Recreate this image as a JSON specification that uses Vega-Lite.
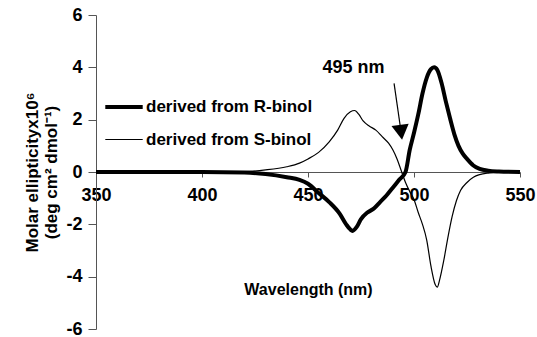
{
  "$schema": "https://vega.github.io/schema/vega-lite/v6.json",
  "width": 424,
  "height": 314,
  "autosize": "none",
  "padding": {"left": 96, "top": 15, "right": 17, "bottom": 8},
  "background": "white",
  "config": {
    "view": {"stroke": null},
    "font": "Liberation Sans",
    "legend": {"labelFontSize": 17, "labelFontWeight": "bold", "labelColor": "black", "labelLimit": 400}
  },
  "datasets": {
    "curves": [
      {"wl": 350, "v": 0, "s": "derived from R-binol"},
      {"wl": 400, "v": 0, "s": "derived from R-binol"},
      {"wl": 420, "v": -0.02, "s": "derived from R-binol"},
      {"wl": 430, "v": -0.08, "s": "derived from R-binol"},
      {"wl": 440, "v": -0.2, "s": "derived from R-binol"},
      {"wl": 446, "v": -0.3, "s": "derived from R-binol"},
      {"wl": 450, "v": -0.45, "s": "derived from R-binol"},
      {"wl": 455, "v": -0.8, "s": "derived from R-binol"},
      {"wl": 460, "v": -1.15, "s": "derived from R-binol"},
      {"wl": 465, "v": -1.6, "s": "derived from R-binol"},
      {"wl": 468, "v": -2.0, "s": "derived from R-binol"},
      {"wl": 470, "v": -2.2, "s": "derived from R-binol"},
      {"wl": 471, "v": -2.25, "s": "derived from R-binol"},
      {"wl": 473, "v": -2.1, "s": "derived from R-binol"},
      {"wl": 475, "v": -1.8, "s": "derived from R-binol"},
      {"wl": 478, "v": -1.55, "s": "derived from R-binol"},
      {"wl": 481, "v": -1.4, "s": "derived from R-binol"},
      {"wl": 484, "v": -1.15, "s": "derived from R-binol"},
      {"wl": 487, "v": -0.9, "s": "derived from R-binol"},
      {"wl": 490, "v": -0.6, "s": "derived from R-binol"},
      {"wl": 493, "v": -0.3, "s": "derived from R-binol"},
      {"wl": 496, "v": 0.0, "s": "derived from R-binol"},
      {"wl": 498, "v": 0.85, "s": "derived from R-binol"},
      {"wl": 500, "v": 1.5, "s": "derived from R-binol"},
      {"wl": 502, "v": 2.2, "s": "derived from R-binol"},
      {"wl": 504, "v": 3.0, "s": "derived from R-binol"},
      {"wl": 506, "v": 3.6, "s": "derived from R-binol"},
      {"wl": 508, "v": 3.93, "s": "derived from R-binol"},
      {"wl": 509.5, "v": 4.0, "s": "derived from R-binol"},
      {"wl": 511, "v": 3.9, "s": "derived from R-binol"},
      {"wl": 513, "v": 3.4, "s": "derived from R-binol"},
      {"wl": 515, "v": 2.7, "s": "derived from R-binol"},
      {"wl": 517, "v": 2.05, "s": "derived from R-binol"},
      {"wl": 519, "v": 1.45, "s": "derived from R-binol"},
      {"wl": 521, "v": 1.0, "s": "derived from R-binol"},
      {"wl": 523, "v": 0.7, "s": "derived from R-binol"},
      {"wl": 525, "v": 0.5, "s": "derived from R-binol"},
      {"wl": 528, "v": 0.25, "s": "derived from R-binol"},
      {"wl": 531, "v": 0.12, "s": "derived from R-binol"},
      {"wl": 535, "v": 0.05, "s": "derived from R-binol"},
      {"wl": 540, "v": 0.02, "s": "derived from R-binol"},
      {"wl": 550, "v": 0, "s": "derived from R-binol"},
      {"wl": 350, "v": 0, "s": "derived from S-binol"},
      {"wl": 420, "v": 0.02, "s": "derived from S-binol"},
      {"wl": 430, "v": 0.08, "s": "derived from S-binol"},
      {"wl": 440, "v": 0.2, "s": "derived from S-binol"},
      {"wl": 446, "v": 0.34, "s": "derived from S-binol"},
      {"wl": 450, "v": 0.5, "s": "derived from S-binol"},
      {"wl": 455, "v": 0.75, "s": "derived from S-binol"},
      {"wl": 460, "v": 1.15, "s": "derived from S-binol"},
      {"wl": 464, "v": 1.6, "s": "derived from S-binol"},
      {"wl": 467, "v": 2.05, "s": "derived from S-binol"},
      {"wl": 470, "v": 2.3, "s": "derived from S-binol"},
      {"wl": 472, "v": 2.35, "s": "derived from S-binol"},
      {"wl": 474, "v": 2.2, "s": "derived from S-binol"},
      {"wl": 476, "v": 1.95, "s": "derived from S-binol"},
      {"wl": 479, "v": 1.75, "s": "derived from S-binol"},
      {"wl": 482, "v": 1.6, "s": "derived from S-binol"},
      {"wl": 485, "v": 1.35, "s": "derived from S-binol"},
      {"wl": 488, "v": 1.1, "s": "derived from S-binol"},
      {"wl": 490, "v": 0.85, "s": "derived from S-binol"},
      {"wl": 492, "v": 0.5, "s": "derived from S-binol"},
      {"wl": 494, "v": 0.05, "s": "derived from S-binol"},
      {"wl": 496, "v": -0.4, "s": "derived from S-binol"},
      {"wl": 498, "v": -0.75, "s": "derived from S-binol"},
      {"wl": 500, "v": -1.05, "s": "derived from S-binol"},
      {"wl": 502, "v": -1.55, "s": "derived from S-binol"},
      {"wl": 504, "v": -2.0, "s": "derived from S-binol"},
      {"wl": 506, "v": -2.6, "s": "derived from S-binol"},
      {"wl": 508, "v": -3.6, "s": "derived from S-binol"},
      {"wl": 510, "v": -4.3, "s": "derived from S-binol"},
      {"wl": 511, "v": -4.4, "s": "derived from S-binol"},
      {"wl": 512, "v": -4.15, "s": "derived from S-binol"},
      {"wl": 514, "v": -3.4, "s": "derived from S-binol"},
      {"wl": 516, "v": -2.5, "s": "derived from S-binol"},
      {"wl": 518, "v": -1.7, "s": "derived from S-binol"},
      {"wl": 520, "v": -1.1, "s": "derived from S-binol"},
      {"wl": 522, "v": -0.7, "s": "derived from S-binol"},
      {"wl": 525, "v": -0.4, "s": "derived from S-binol"},
      {"wl": 528, "v": -0.2, "s": "derived from S-binol"},
      {"wl": 531, "v": -0.1, "s": "derived from S-binol"},
      {"wl": 535, "v": -0.04, "s": "derived from S-binol"},
      {"wl": 540, "v": -0.01, "s": "derived from S-binol"},
      {"wl": 550, "v": 0, "s": "derived from S-binol"}
    ],
    "arrow": [{"x1": 490.6, "y1": 3.39, "x2": 493.6, "y2": 1.7}],
    "head": [{"x": 493.9, "y": 1.52}],
    "label": [{"x": 471.5, "y": 3.96, "t": "495 nm"}]
  },
  "layer": [
    {
      "data": {"name": "curves"},
      "mark": {"type": "line", "interpolate": "monotone"},
      "encoding": {
        "x": {
          "field": "wl", "type": "quantitative",
          "scale": {"domain": [350, 550], "nice": false},
          "axis": {
            "values": [350, 400, 450, 500, 550],
            "labelExpr": "'' + datum.value",
            "labelFlush": false,
            "title": "Wavelength (nm)",
            "titleFontSize": 16, "titleFontWeight": "bold", "titleColor": "black",
            "titleY": 117, "titleBaseline": "middle",
            "offset": -157,
            "labelFontSize": 18, "labelFontWeight": "bold", "labelColor": "black",
            "labelPadding": 9,
            "domainColor": "#555", "tickColor": "#555", "tickSize": 5,
            "grid": false
          }
        },
        "y": {
          "field": "v", "type": "quantitative",
          "scale": {"domain": [-6, 6], "nice": false},
          "axis": {
            "values": [-6, -4, -2, 0, 2, 4, 6],
            "labelExpr": "'' + datum.value",
            "title": ["Molar ellipticityx10⁶", "(deg cm² dmol⁻¹)"],
            "titleFontSize": 17, "titleFontWeight": "bold", "titleColor": "black",
            "titleLineHeight": 19,
            "titlePadding": 5,
            "labelFontSize": 18, "labelFontWeight": "bold", "labelColor": "black",
            "labelPadding": 6,
            "domainColor": "#555", "tickColor": "#555", "tickSize": 8,
            "grid": false
          }
        },
        "detail": {"field": "s"},
        "color": {
          "field": "s", "type": "nominal",
          "scale": {"range": ["black", "black"]},
          "legend": {
            "title": null, "orient": "none", "legendX": 7, "legendY": 71,
            "symbolType": "stroke", "symbolSize": 1400,
            "rowPadding": 5, "labelOffset": 1, "padding": 0
          }
        },
        "strokeWidth": {
          "field": "s", "type": "nominal",
          "scale": {"range": [4, 1.2]},
          "legend": {
            "title": null, "orient": "none", "legendX": 7, "legendY": 71,
            "symbolType": "stroke", "symbolSize": 1400,
            "rowPadding": 5, "labelOffset": 1, "padding": 0
          }
        }
      }
    },
    {
      "data": {"name": "arrow"},
      "mark": {"type": "rule", "color": "black", "strokeWidth": 1.2},
      "encoding": {
        "x": {"field": "x1", "type": "quantitative"},
        "y": {"field": "y1", "type": "quantitative"},
        "x2": {"field": "x2"},
        "y2": {"field": "y2"}
      }
    },
    {
      "data": {"name": "head"},
      "mark": {"type": "point", "shape": "triangle-down", "filled": true, "color": "black", "size": 300, "angle": -7.6, "opacity": 1},
      "encoding": {
        "x": {"field": "x", "type": "quantitative"},
        "y": {"field": "y", "type": "quantitative"}
      }
    },
    {
      "data": {"name": "label"},
      "mark": {"type": "text", "fontSize": 18, "fontWeight": "bold", "color": "black"},
      "encoding": {
        "x": {"field": "x", "type": "quantitative"},
        "y": {"field": "y", "type": "quantitative"},
        "text": {"field": "t"}
      }
    }
  ]
}
